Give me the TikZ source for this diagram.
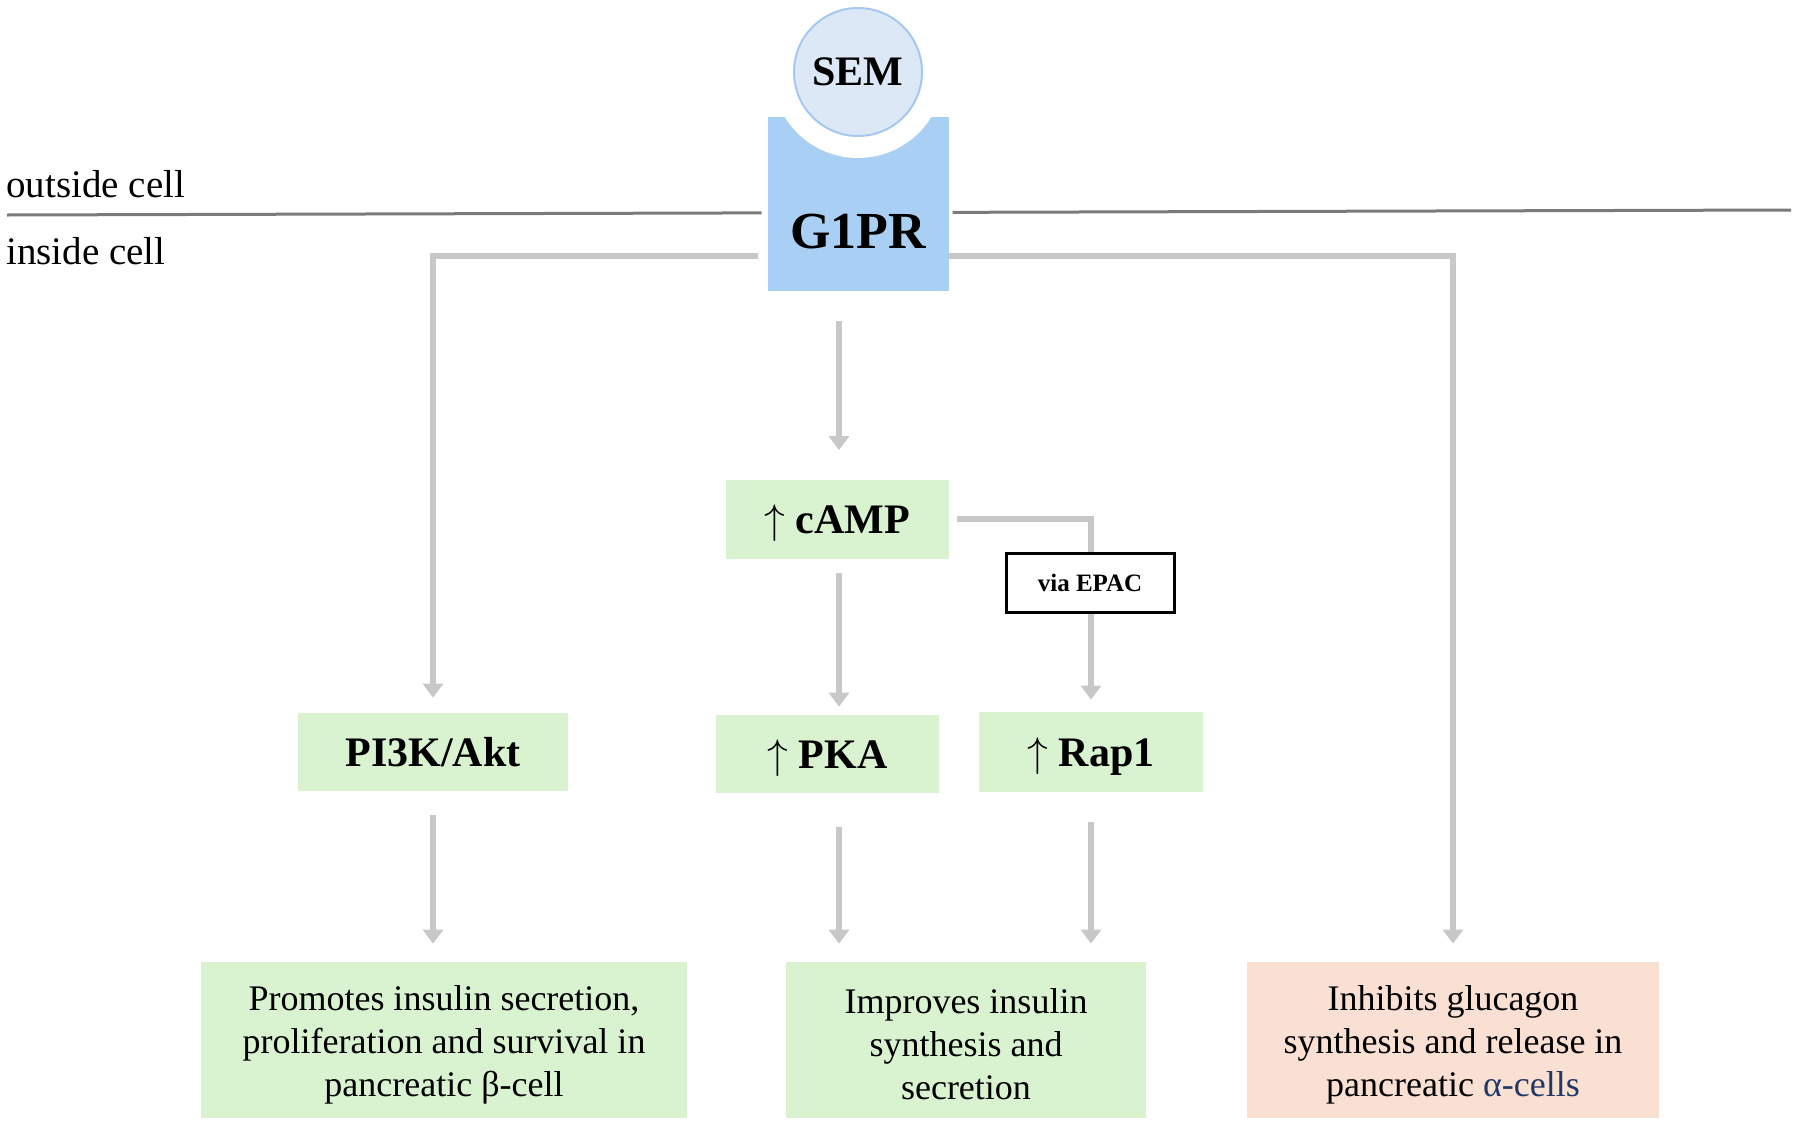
\documentclass[tikz,border=0pt]{standalone}
\usepackage{fontspec}
\setmainfont{Liberation Serif}
\usetikzlibrary{arrows.meta,calc}
\definecolor{boxgreen}{HTML}{D9F2D0}
\definecolor{boxpeach}{HTML}{FADFD3}
\definecolor{rcpblue}{HTML}{A9CFF5}
\definecolor{semfill}{HTML}{DCE8F6}
\definecolor{semline}{HTML}{A6C8EE}
\definecolor{arrgray}{HTML}{C8C8C8}
\definecolor{memgray}{HTML}{7A7A7A}
\definecolor{alphablue}{HTML}{1F3A66}
\newcommand{\toppad}{\rule{0pt}{17pt}}
\begin{document}
\begin{tikzpicture}[x=0.5pt,y=-0.5pt,
  greenbox/.style={fill=boxgreen, draw=none, inner sep=0pt, align=center},
  peachbox/.style={fill=boxpeach, draw=none, inner sep=0pt, align=center},
  lblfont/.style={font=\fontsize{21}{25}\selectfont\bfseries, text height=15pt, text depth=1pt},
  txtfont/.style={font=\fontsize{18}{21.5}\selectfont},
  arr/.style={draw=arrgray, line width=3pt, -{Triangle[width=10pt,length=7pt]}},
  membrane/.style={draw=memgray, line width=1.5pt}]
\useasboundingbox (0,0) rectangle (1800,1130);

% receptor
\node[fill=rcpblue, draw=none, minimum width=90.5pt, minimum height=87pt, inner sep=0pt] (g1pr) at (858.5,204) {};
\fill[white] (858,72) circle[radius=43pt];
\node[circle, fill=semfill, draw=semline, line width=1pt, minimum size=64pt, inner sep=0pt, font=\fontsize{21}{25}\selectfont\bfseries] (sem) at (858,72) {SEM};
\node[font=\fontsize{26}{30}\selectfont\bfseries, inner sep=0pt] (g1prtext) at (858,232) {G1PR};

% membrane
\coordinate (mL) at (7,215);
\coordinate (mR) at (1791,210);
\coordinate (mLi) at ($(mL)!0.423!(mR)$);
\coordinate (mRi) at ($(mL)!0.530!(mR)$);
\draw[membrane] (mL) -- (mLi);
\draw[membrane] (mRi) -- (mR);
\node[anchor=base west, inner sep=0pt, font=\fontsize{19.5}{22}\selectfont] (outside) at (6,197) {outside cell};
\node[anchor=base west, inner sep=0pt, font=\fontsize{19.5}{22}\selectfont] (inside) at (6,264) {inside cell};

% signalling nodes
\node[greenbox, lblfont, minimum width=111.5pt, minimum height=39.5pt] (camp) at (837.5,519) {$\uparrow$ cAMP};
\node[greenbox, lblfont, minimum width=111.5pt, minimum height=39pt] (pka) at (827.5,754) {$\uparrow$ PKA};
\node[greenbox, lblfont, minimum width=112pt, minimum height=40pt] (rap1) at (1091,752) {$\uparrow$ Rap1};
\node[greenbox, lblfont, minimum width=135pt, minimum height=39pt] (pi3k) at (433,752) {PI3K/Akt};

% outcome boxes
\node[greenbox, txtfont, minimum width=243pt, minimum height=78pt] (bl) at (444,1040) {\toppad Promotes insulin secretion,\\proliferation and survival in\\pancreatic β-cell};
\node[greenbox, txtfont, minimum width=180pt, minimum height=78pt] (bm) at (966,1040) {\toppad Improves insulin\\synthesis and\\secretion};
\node[peachbox, txtfont, minimum width=206pt, minimum height=78pt] (br) at (1453,1040) {\toppad Inhibits glucagon\\synthesis and release in\\pancreatic \textcolor{alphablue}{α-cells}};

% connectors
\coordinate (yconn) at (0,256);
\coordinate (xc) at (839,0);
\draw[arr, shorten <=5pt, shorten >=7.5pt] (g1pr.west |- yconn) -| (pi3k.north);
\draw[arr, shorten >=9pt] (g1pr.east |- yconn) -| (br.north);
\draw[arr, shorten <=15pt, shorten >=14.5pt] (g1pr.south -| xc) -- (camp.north -| xc);
\draw[arr, shorten <=7pt, shorten >=4pt] (camp.south -| xc) -- (pka.north -| xc);
\draw[arr, shorten <=4pt, shorten >=6pt] (camp.east) -| (rap1.north);
\draw[arr, shorten <=12pt, shorten >=9pt] (pi3k.south) -- (pi3k.south |- bl.north);
\draw[arr, shorten <=17pt, shorten >=9pt] (pka.south -| xc) -- (bm.north -| xc);
\draw[arr, shorten <=15pt, shorten >=9pt] (rap1.south) -- (rap1.south |- bm.north);

% via EPAC label on the connector
\node[draw=black, line width=1.5pt, fill=white, minimum width=84pt, minimum height=29.5pt, inner sep=0pt, font=\fontsize{12.5}{15}\selectfont\bfseries] (epac) at (1090,582.5) {via EPAC};
\end{tikzpicture}
\end{document}
